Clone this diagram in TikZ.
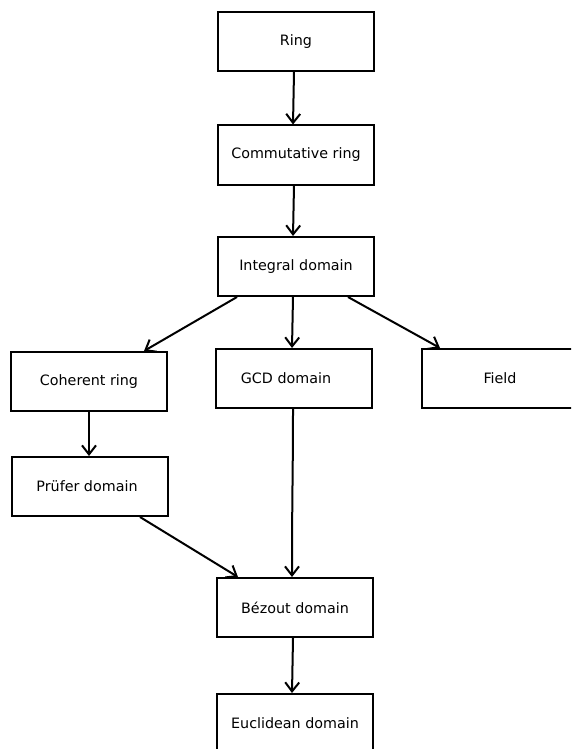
\documentclass[tikz,border=0pt]{standalone}
\usepackage{fontspec}
\setmainfont{DejaVu Sans}
\usetikzlibrary{arrows.meta}
\newcommand{\lbl}[1]{\raisebox{-1.5pt}{#1}}
\begin{document}
\begin{tikzpicture}[x=1pt,y=-1pt,
  box/.style={draw, line width=2pt, minimum width=156pt, minimum height=59pt, inner sep=0pt, font=\fontsize{14.3}{16}\selectfont},
  arr/.style={line width=2pt, -{Straight Barb[length=9pt,width=14pt,line width=2pt]}}]
\useasboundingbox (0,0) rectangle (571,749);
\clip (0,0) rectangle (571,749);
\node[box] (ring) at (296,41.5) {\lbl{Ring}};
\node[box] (comm) at (296,155) {\lbl{Commutative ring}};
\node[box] (int) at (296,266.5) {\lbl{Integral domain}};
\node[box] (coh) at (89,381.5) {\lbl{Coherent ring}};
\node[box] (gcd) at (294,378.5) {\lbl{\hspace*{-16pt}GCD domain}};
\node[box] (field) at (500,378.5) {\lbl{Field}};
\node[box] (pru) at (90,486.5) {\lbl{\hspace*{-6pt}Prüfer domain}};
\node[box] (bez) at (295,607.5) {\lbl{Bézout domain}};
\node[box] (euc) at (295,723.5) {\lbl{Euclidean domain}};
\draw[arr] ([xshift=-2pt]ring.south) -- ([xshift=-3pt]comm.north);
\draw[arr] ([xshift=-2pt]comm.south) -- ([xshift=-3pt]int.north);
\draw[arr] ([xshift=20pt]int.south west) -- ([xshift=-24pt]coh.north east);
\draw[arr] ([xshift=-3pt]int.south) -- ([xshift=-2pt]gcd.north);
\draw[arr] ([xshift=-27pt]int.south east) -- ([xshift=19pt]field.north west);
\draw[arr] (coh.south) -- (pru.north -| coh.south);
\draw[arr] ([xshift=-29pt]pru.south east) -- ([xshift=22pt]bez.north west);
\draw[arr] ([xshift=-1pt]gcd.south) .. controls ([xshift=-1pt,yshift=-60pt]gcd.south) and ([xshift=-3pt,yshift=80pt]bez.north) .. ([xshift=-3pt]bez.north);
\draw[arr] ([xshift=-2pt]bez.south) -- ([xshift=-3pt]euc.north);
\end{tikzpicture}
\end{document}
